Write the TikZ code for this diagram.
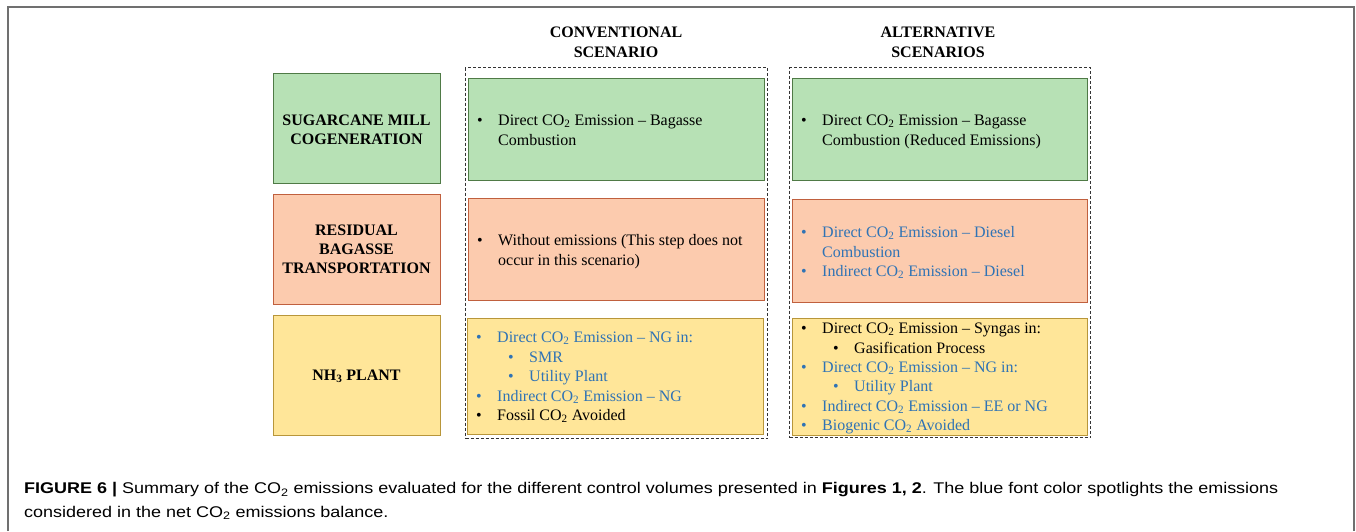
\documentclass[tikz,border=0pt]{standalone}
\usepackage{fontspec}
\setmainfont{Liberation Serif}
\newfontfamily\capfont[FakeStretch=1.16]{Liberation Sans}
\definecolor{gfill}{HTML}{B7E1B5}
\definecolor{gdraw}{HTML}{4F7A46}
\definecolor{ofill}{HTML}{FCCBAE}
\definecolor{odraw}{HTML}{C0603E}
\definecolor{yfill}{HTML}{FFE699}
\definecolor{ydraw}{HTML}{B8963A}
\definecolor{myblue}{HTML}{2F73B5}
\definecolor{framegray}{HTML}{707070}
\newcommand{\bul}{\makebox[21pt][l]{\textbullet}}
\newcommand{\cotwo}{CO\textsubscript{2}}
\begin{document}
\begin{tikzpicture}[x=1pt,y=-1pt,
  box/.style={rectangle, anchor=north west, line width=1.1pt, inner sep=0pt},
  gbox/.style={box, fill=gfill, draw=gdraw},
  obox/.style={box, fill=ofill, draw=odraw},
  ybox/.style={box, fill=yfill, draw=ydraw},
  dbox/.style={rectangle, anchor=north west, draw=black!80, line width=1pt, dash pattern=on 3pt off 2pt, inner sep=0pt},
  txt/.style={anchor=base west, inner sep=0pt, font=\fontsize{16}{19}\selectfont},
  btxt/.style={txt, text=myblue},
  lbl/.style={anchor=base, inner sep=0pt, font=\bfseries\fontsize{16}{19}\selectfont},
  captxt/.style={anchor=base west, inner sep=0pt, font=\capfont\fontsize{15.5}{19}\selectfont}]
\useasboundingbox (0,0) rectangle (1356,531);
% outer frame
\draw[framegray, line width=1.5pt] (8,531) -- (8,7) -- (1354,7) -- (1354,531);
% dashed scenario frames
\node[dbox, minimum width=302pt, minimum height=371pt] (CD) at (465,67) {};
\node[dbox, minimum width=301pt, minimum height=370pt] (AD) at (789,67) {};
% titles
\node[lbl] (ct1) at (616,37) {CONVENTIONAL};
\node[lbl] (ct2) at (616,57) {SCENARIO};
\node[lbl] (at1) at (938,37) {ALTERNATIVE};
\node[lbl] (at2) at (938,57) {SCENARIOS};
% left stage boxes
\node[gbox, minimum width=167pt, minimum height=110pt] (L1) at (273,73) {};
\node[obox, minimum width=167pt, minimum height=110pt] (L2) at (273,194) {};
\node[ybox, minimum width=167pt, minimum height=120pt] (L3) at (273,315) {};
\node[lbl] (l1a) at (356.5,125) {SUGARCANE MILL};
\node[lbl] (l1b) at (356.5,144) {COGENERATION};
\node[lbl] (l2a) at (356.5,235) {RESIDUAL};
\node[lbl] (l2b) at (356.5,254) {BAGASSE};
\node[lbl] (l2c) at (356.5,273) {TRANSPORTATION};
\node[lbl] (l3a) at (356.5,380) {NH\textsubscript{3} PLANT};
% conventional boxes
\node[gbox, minimum width=296pt, minimum height=102pt] (C1) at (468,78) {};
\node[obox, minimum width=296pt, minimum height=102pt] (C2) at (468,198) {};
\node[ybox, minimum width=296pt, minimum height=116pt] (C3) at (467,318) {};
\node[txt] (c1a) at (477,125) {\bul Direct \cotwo{} Emission -- Bagasse};
\node[txt] (c1b) at (498,145) {Combustion};
\node[txt] (c2a) at (477,245) {\bul Without emissions (This step does not};
\node[txt] (c2b) at (498,265) {occur in this scenario)};
\node[btxt] (c3a) at (476,342) {\bul Direct \cotwo{} Emission -- NG in:};
\node[btxt] (c3b) at (508,362) {\bul SMR};
\node[btxt] (c3c) at (508,381) {\bul Utility Plant};
\node[btxt] (c3d) at (476,401) {\bul Indirect \cotwo{} Emission -- NG};
\node[txt] (c3e) at (476,420) {\bul Fossil \cotwo{} Avoided};
% alternative boxes
\node[gbox, minimum width=295pt, minimum height=102pt] (A1) at (792,78) {};
\node[obox, minimum width=295pt, minimum height=103pt] (A2) at (792,199) {};
\node[ybox, minimum width=295pt, minimum height=117pt] (A3) at (792,318) {};
\node[txt] (a1a) at (801,125) {\bul Direct \cotwo{} Emission -- Bagasse};
\node[txt] (a1b) at (822,145) {Combustion (Reduced Emissions)};
\node[btxt] (a2a) at (801,237) {\bul Direct \cotwo{} Emission -- Diesel};
\node[btxt] (a2b) at (822,257) {Combustion};
\node[btxt] (a2c) at (801,276) {\bul Indirect \cotwo{} Emission -- Diesel};
\node[txt] (a3a) at (801,333) {\bul Direct \cotwo{} Emission -- Syngas in:};
\node[txt] (a3b) at (833,353) {\bul Gasification Process};
\node[btxt] (a3c) at (801,372) {\bul Direct \cotwo{} Emission -- NG in:};
\node[btxt] (a3d) at (833,391) {\bul Utility Plant};
\node[btxt] (a3e) at (801,411) {\bul Indirect \cotwo{} Emission -- EE or NG};
\node[btxt] (a3f) at (801,430) {\bul Biogenic \cotwo{} Avoided};
% caption
\node[captxt] (cap1) at (24,493.5) {\textbf{FIGURE 6 |} Summary of the \cotwo{} emissions evaluated for the different control volumes presented in \textbf{Figures 1, 2}. The blue font color spotlights the emissions};
\node[captxt] (cap2) at (24,517) {considered in the net \cotwo{} emissions balance.};
\end{tikzpicture}
\end{document}
